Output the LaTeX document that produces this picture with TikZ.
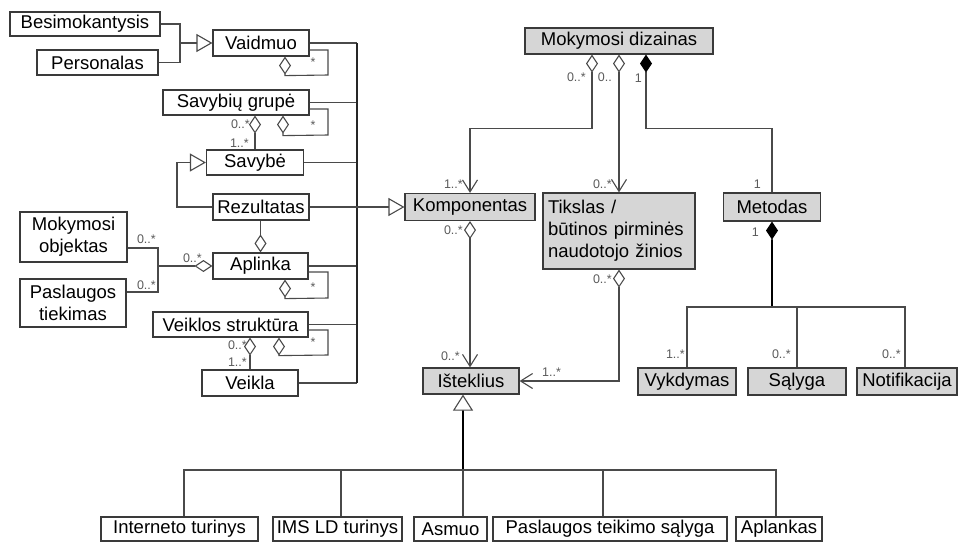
\documentclass[tikz,border=0pt]{standalone}
\usepackage{fontspec}
\setmainfont{Liberation Sans}
\usetikzlibrary{arrows.meta,calc}
\definecolor{boxc}{HTML}{3A3A3A}
\definecolor{linec}{HTML}{4A4A4A}
\definecolor{labc}{HTML}{5A5A5A}
\definecolor{fillc}{HTML}{D6D6D6}
\begin{document}
\begin{tikzpicture}[x=1pt,y=-1pt,
  cls/.style={draw=boxc,line width=1.2pt,fill=white,inner sep=0pt,font=\fontsize{18.5}{22}\selectfont},
  gcls/.style={cls,fill=fillc},
  conn/.style={draw=linec,line width=1.1pt},
  gen/.style={conn,-{Triangle[open,length=16pt,width=18pt]}},
  genw/.style={conn,-{Triangle[open,length=16pt,width=20pt]}},
  odia/.style={conn,{Diamond[open,length=18pt,width=12pt]}-},
  odv/.style={conn,{Diamond[open,length=18pt,width=12pt]}-{Straight Barb[length=12pt,width=15pt]}},
  fdia/.style={conn,{Diamond[length=18pt,width=12pt,color=black,fill=black]}-},
  busline/.style={draw=black!85,line width=1.5pt},
  heavy/.style={draw=black,line width=2.4pt},
  lab/.style={text=labc,inner sep=0pt,font=\fontsize{12.5}{13}\selectfont},
]
\useasboundingbox (0,0) rectangle (958,542);

% ---------- left classes ----------
\node[cls,minimum width=150pt,minimum height=24pt] (besim) at (85,24) {Besimokantysis};
\node[cls,minimum width=121pt,minimum height=25pt] (pers) at (97.5,62.5) {Personalas};
\node[cls,minimum width=96pt,minimum height=26pt] (vaid) at (261,43) {Vaidmuo};
\node[cls,minimum width=146pt,minimum height=25pt] (savg) at (236,102.5) {Savybių grupė};
\node[cls,minimum width=97pt,minimum height=25pt] (savy) at (255,162.5) {Savybė};
\node[cls,minimum width=96pt,minimum height=26pt] (rez) at (261,207) {Rezultatas};
\node[cls,align=center,minimum width=107pt,minimum height=50pt] (mok) at (73.5,237) {Mokymosi\\objektas};
\node[cls,align=center,minimum width=106pt,minimum height=48pt] (pasl) at (73,303) {Paslaugos\\tiekimas};
\node[cls,minimum width=95pt,minimum height=26pt] (apl) at (260.5,266) {Aplinka};
\node[cls,minimum width=155pt,minimum height=25pt] (veis) at (230.5,324.5) {Veiklos struktūra};
\node[cls,minimum width=96pt,minimum height=26pt] (veik) at (250,383) {Veikla};

% ---------- right classes ----------
\node[gcls,minimum width=188pt,minimum height=26pt] (mdiz) at (619,41) {Mokymosi dizainas};
\node[gcls,minimum width=130pt,minimum height=27pt] (komp) at (470,207) {Komponentas};
\node[gcls,align=left,text width=142pt,inner xsep=5pt,minimum height=76pt] (tiks) at (619,231) {Tikslas /\\būtinos pirminės\\naudotojo žinios};
\node[gcls,minimum width=97pt,minimum height=28pt] (met) at (772,207) {Metodas};
\node[gcls,minimum width=96pt,minimum height=26pt] (ist) at (471,381) {Išteklius};
\node[gcls,minimum width=98pt,minimum height=27pt] (vykd) at (687,381.5) {Vykdymas};
\node[gcls,minimum width=98pt,minimum height=27pt] (salyg) at (797,381.5) {Sąlyga};
\node[gcls,minimum width=100pt,minimum height=27pt] (notif) at (907,381.5) {Notifikacija};

% ---------- bottom classes ----------
\node[cls,minimum width=157pt,minimum height=24pt] (inter) at (179.5,529) {Interneto turinys};
\node[cls,minimum width=129pt,minimum height=24pt] (ims) at (337.5,529) {IMS LD turinys};
\node[cls,minimum width=73pt,minimum height=24pt] (asm) at (450.5,529) {Asmuo};
\node[cls,minimum width=234pt,minimum height=24pt] (psal) at (610,529) {Paslaugos teikimo sąlyga};
\node[cls,minimum width=86pt,minimum height=24pt] (apk) at (779,529) {Aplankas};

% ---------- connectors: left ----------
\coordinate (jA) at (180,43);
\draw[conn] (besim.east) -| (jA);
\draw[conn] (pers.east) -| (jA);
\draw[gen] (jA) -- (vaid.west);

\draw[odia] ([xshift=24pt]vaid.south) -- ++(0,19) -- (328,75) -- (328,50) -- ([yshift=-7pt]vaid.east);
\draw[odia] ([xshift=47pt]savg.south) -- ++(0,20) -- (328,135) -- (328,109) -- ([yshift=-6.5pt]savg.east);
\draw[odia] ([xshift=24.5pt]apl.south) -- ++(0,19) -- (328,298) -- (328,272) -- ([yshift=-6pt]apl.east);
\draw[odia] ([xshift=48.5pt]veis.south) -- ++(0,18) -- (328,355) -- (328,330) -- ([yshift=-5.5pt]veis.east);

\draw[odia] (savg.south -| savy.north) -- (savy.north);
\draw[odia] (veis.south -| veik.north) -- (veik.north);
\draw[odia] (apl.north) -- (apl.north |- rez.south);

\coordinate (jS) at (177,207);
\draw[gen] (rez.west) -- (jS) |- (savy.west);

\coordinate (jB) at (158,266);
\draw[conn] ([yshift=-11pt]mok.east) -| (jB);
\draw[conn] ([yshift=11pt]pasl.east) -| (jB);
\draw[odia] (apl.west) -- (jB);

\coordinate (busT) at (357,43);
\coordinate (busB) at (357,383);
\draw[conn] (vaid.east) -- (busT);
\draw[conn] (veik.east) -- (busB);
\foreach \n in {savg,savy,apl,veis} \draw[conn] (\n.east) -- (\n.east -| busT);
\draw[busline] (busT) -- (busB);
\draw[gen] (rez.east) -- (komp.west);

% ---------- connectors: right ----------
\draw[odv] ([xshift=-27pt]mdiz.south) -- ++(0,74) -| (komp.north);
\draw[odv] (mdiz.south) -- (tiks.north);
\draw[fdia] ([xshift=27pt]mdiz.south) -- ++(0,74) -| (met.north);
\draw[odv] (komp.south) -- (komp.south |- ist.north);
\draw[odv] (tiks.south) |- (ist.east);

\coordinate (jM) at (772,307);
\draw[fdia] (met.south) -- (jM);
\draw[heavy] ([yshift=-18pt]met.south) -- (jM);
\draw[conn] (vykd.north) |- (jM);
\draw[conn] ([xshift=-2pt]notif.north) |- (jM);
\draw[conn] (salyg.north) -- (salyg.north |- jM);

% ---------- connectors: bottom ----------
\coordinate (jR) at (463,470);
\draw[genw] (jR) -- ([xshift=-8pt]ist.south);
\draw[heavy] (jR) -- ([xshift=-8pt,yshift=-16pt]ist.south);
\draw[conn] ([xshift=4.5pt]inter.north) |- (jR);
\draw[conn] ([xshift=-3pt]apk.north) |- (jR);
\draw[conn] ([xshift=3.5pt]ims.north) -- ([xshift=3.5pt]ims.north |- jR);
\draw[conn] ([xshift=12.5pt]asm.north) -- (jR);
\draw[conn] ([xshift=-7pt]psal.north) -- ([xshift=-7pt]psal.north |- jR);

% ---------- multiplicity labels ----------
\node[lab,anchor=east] (m1) at (250,124) {0..*};
\node[lab,anchor=east] (m2) at (249,143) {1..*};
\node[lab,anchor=east] (m3) at (247,345) {0..*};
\node[lab,anchor=east] (m4) at (247,362) {1..*};
\node[lab,anchor=east] (m5) at (156,239) {0..*};
\node[lab,anchor=east] (m6) at (156,285) {0..*};
\node[lab,anchor=east] (m7) at (202,258) {0..*};
\node[lab] (s1) at (313,62) {*};
\node[lab] (s2) at (313,125) {*};
\node[lab] (s3) at (313,287) {*};
\node[lab] (s4) at (313,342) {*};
\node[lab,anchor=east] (m8) at (586,77) {0..*};
\node[lab,anchor=east] (m9) at (612,77) {0..};
\node[lab,anchor=east] (m10) at (642,78) {1};
\node[lab,anchor=east] (m11) at (463,184) {1..*};
\node[lab,anchor=east] (m12) at (612,184) {0..*};
\node[lab,anchor=east] (m13) at (761,184) {1};
\node[lab,anchor=east] (m14) at (463,230) {0..*};
\node[lab,anchor=east] (m15) at (612,279) {0..*};
\node[lab,anchor=east] (m16) at (759,232) {1};
\node[lab,anchor=east] (m17) at (460,356) {0..*};
\node[lab,anchor=west] (m18) at (542,372) {1..*};
\node[lab,anchor=east] (m19) at (685,354) {1..*};
\node[lab,anchor=east] (m20) at (791,354) {0..*};
\node[lab,anchor=east] (m21) at (901,354) {0..*};
\end{tikzpicture}
\end{document}
